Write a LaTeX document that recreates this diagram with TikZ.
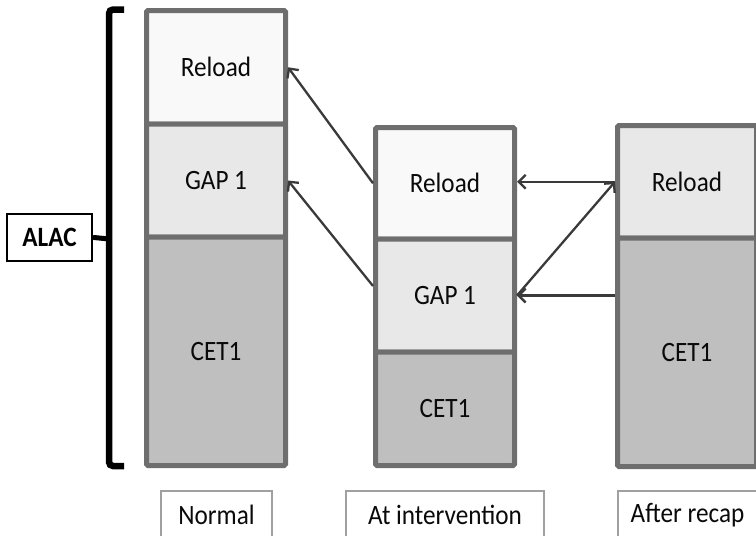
\documentclass[tikz,border=0pt]{standalone}
\usepackage{fontspec}
\setmainfont{Carlito}[FakeStretch=0.9]
\usetikzlibrary{arrows.meta,calc}
\definecolor{bordergray}{HTML}{6E6E6E}
\definecolor{fillA}{HTML}{F9F9F9}
\definecolor{fillB}{HTML}{E8E8E8}
\definecolor{fillC}{HTML}{BFBFBF}
\definecolor{arrowgray}{HTML}{3A3A3A}
\definecolor{labelgray}{HTML}{A0A0A0}
\definecolor{txt}{HTML}{0A0A0A}
\tikzset{
  seg/.style={draw=bordergray, line width=5pt, rounded corners=1.5pt, inner sep=0pt, outer sep=2.5pt,
    minimum width=139pt, text=txt, font=\fontsize{28}{32}\selectfont},
  lab/.style={draw=labelgray, line width=1.5pt, inner sep=0pt, outer sep=0pt, fill=white,
    minimum height=48pt, text=txt, font=\fontsize{28}{32}\selectfont},
  conn/.style={draw=arrowgray, line width=2.3pt, -{Straight Barb[length=7pt,width=14pt,line width=2.3pt]}},
}
\begin{document}
\begin{tikzpicture}[x=1pt,y=-1pt]
\useasboundingbox (0,0) rectangle (756,536);
\clip (0,0) rectangle (756,536);
% column 1 (Normal)
\node[seg, fill=fillA, minimum height=113.5pt] (n1r) at (216,67.25) {Reload};
\node[seg, fill=fillB, minimum height=113pt] (n1g) at (216,180.5) {GAP 1};
\node[seg, fill=fillC, minimum height=228.5pt] (n1c) at (216,351.25) {CET1};
% column 2 (At intervention)
\node[seg, fill=fillA, minimum height=111.5pt] (n2r) at (445,183.25) {Reload};
\node[seg, fill=fillB, minimum height=113pt] (n2g) at (445,295.5) {GAP 1};
\node[seg, fill=fillC, minimum height=113.5pt] (n2c) at (445,408.75) {CET1};
% column 3 (After recap)
\node[seg, fill=fillB, minimum height=112.5pt] (n3r) at (687,181.75) {Reload};
\node[seg, fill=fillC, minimum height=228.5pt] (n3c) at (687,352.25) {CET1};
% labels
\node[lab, minimum width=111pt] (l1) at (216.5,515) {Normal};
\node[lab, minimum width=198pt] (l2) at (445,515) {At intervention};
\node[lab, minimum width=139pt] (l3) at (687.5,515) {After recap};
% ALAC and brace
\node[draw=black, line width=1.6pt, inner sep=0pt, outer sep=0pt, minimum width=85pt, minimum height=47pt,
  font=\fontsize{28}{32}\selectfont\bfseries] (alac) at (49.5,237.5) {ALAC};
\coordinate (btop) at (124,9.5);
\coordinate (bbot) at (124,466);
\coordinate (bmid) at (109,239);
\draw[line width=6.5pt, rounded corners=4pt] (btop) -- (109,9.5) -- (109,466) -- (bbot);
\draw[line width=5pt, line cap=round] (bmid) -- ([xshift=2pt]alac.east);
% connectors
\draw[conn] (n2r.west) -- (n1r.east);
\draw[conn] ($(n2g.west)+(0,-9.5)$) -- (n1g.east);
\draw[conn] (n3r.west) -- (n3r.west -| n2r.east);
\draw[conn] (n2g.east) -- (n3r.west);
\draw[conn] (n2g.east -| n3c.west) -- (n2g.east);
\end{tikzpicture}
\end{document}
